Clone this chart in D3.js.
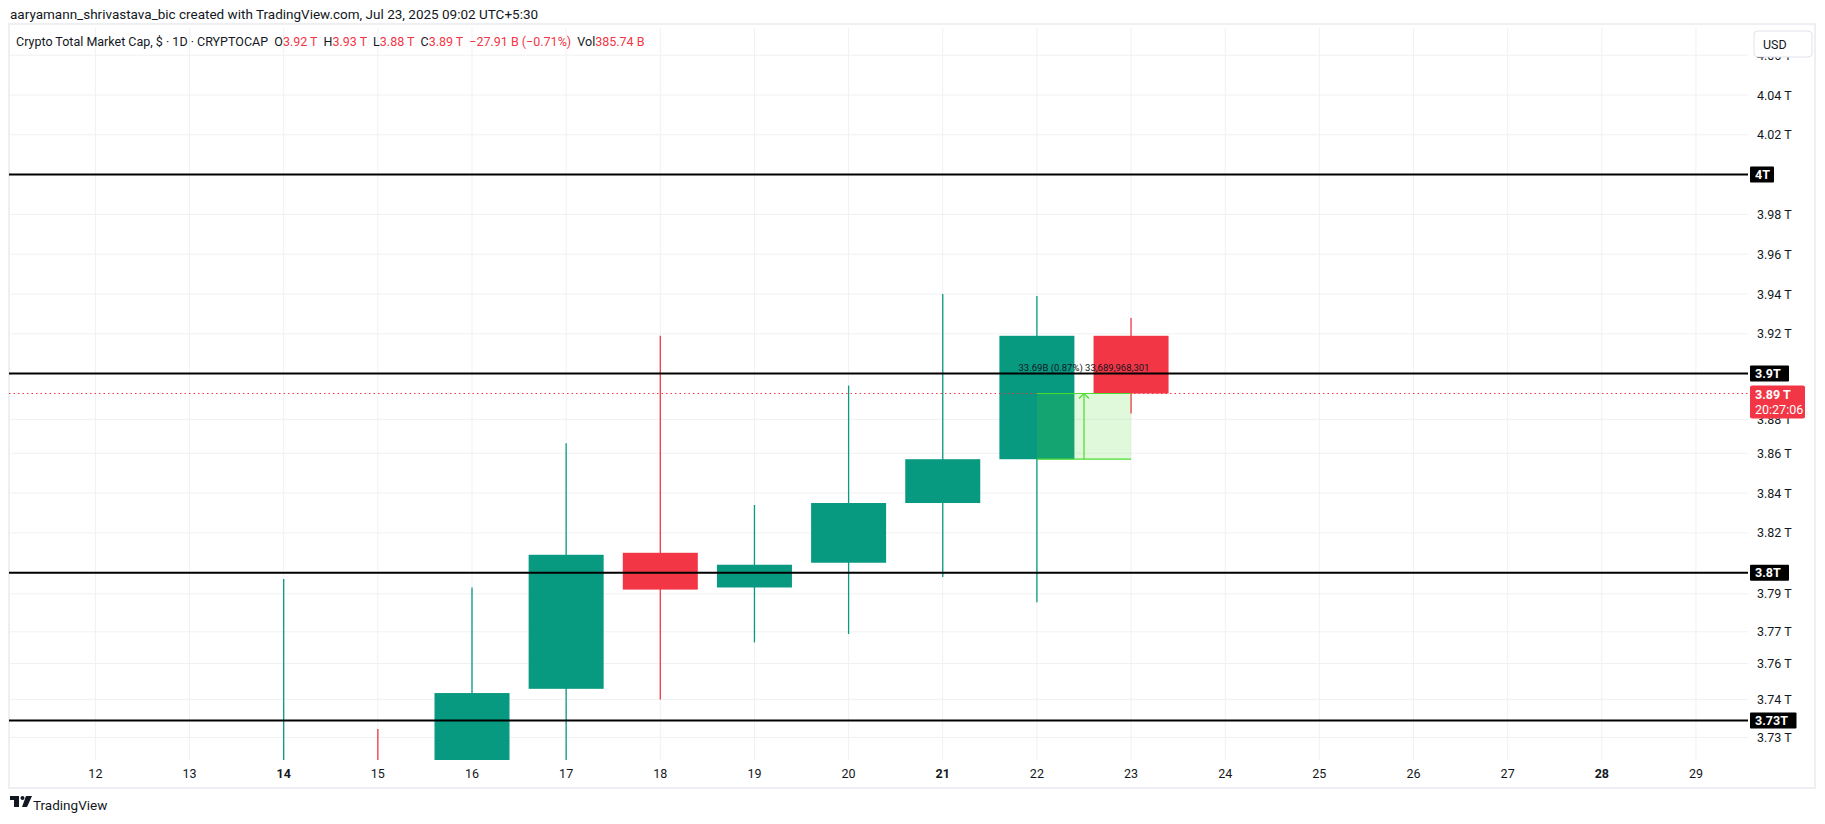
<!DOCTYPE html>
<html><head><meta charset="utf-8">
<script src="https://cdn.jsdelivr.net/npm/d3@7"></script>
<style>
body{margin:0;background:#fff;font-family:Roboto,"Liberation Sans",sans-serif;}
</style></head>
<body><svg id="c" width="1825" height="824"></svg>
<script>
// candle data, day of July 2025
const days   = [14, 15, 16, 17, 18, 19, 20, 21, 22, 23];
const opens  = [3.700, 3.700, 3.700, 3.745, 3.810, 3.793, 3.805, 3.835, 3.857, 3.919];
const highs  = [3.797, 3.726, 3.793, 3.865, 3.919, 3.834, 3.894, 3.940, 3.939, 3.928];
const lows   = [3.680, 3.680, 3.680, 3.710, 3.740, 3.767, 3.771, 3.798, 3.786, 3.880];
const closes = [3.710, 3.690, 3.743, 3.809, 3.792, 3.804, 3.835, 3.857, 3.919, 3.890];

const xTicks = d3.range(12, 30);
const boldDays = [14, 21, 28];
const yTickVals   = [4.06, 4.04, 4.02, 3.98, 3.96, 3.94, 3.92, 3.877, 3.86, 3.84, 3.82, 3.79, 3.772, 3.757, 3.74, 3.722];
const yTickLabels = ["4.06 T","4.04 T","4.02 T","3.98 T","3.96 T","3.94 T","3.92 T","3.88 T","3.86 T","3.84 T","3.82 T","3.79 T","3.77 T","3.76 T","3.74 T","3.73 T"];
const levels = [4.0, 3.9, 3.8, 3.73];
const levelLabels = ["4T", "3.9T", "3.8T", "3.73T"];
const lastPrice = 3.89;
const proj = {from: 22, to: 23, y0: 3.857, y1: 3.890, text: "33.69B (0.87%) 33,689,968,301"};

const L = 9, R = 1748, T = 28, B = 760;
const UP = "#089981", DN = "#f23645";

const svg = d3.select("#c");
const x = d3.scaleLinear().domain([12, 20]).range([95.4, 848.6]);
// price axis is not exactly linear here: piecewise through the level lines
const y = d3.scaleLinear().domain([4.0, 3.9, 3.8, 3.73]).range([174.6, 373.6, 572.7, 720.5]);

svg.append("defs").append("clipPath").attr("id", "plot")
  .append("rect").attr("x", L).attr("y", T).attr("width", R - L).attr("height", B - T);

// grid
const grid = svg.append("g").attr("stroke", "#f0f1f3").attr("stroke-width", 1);
grid.selectAll(".v").data(xTicks).join("line")
  .attr("x1", d => x(d)).attr("x2", d => x(d)).attr("y1", T).attr("y2", B);
grid.selectAll(".h").data(yTickVals).join("line")
  .attr("x1", L).attr("x2", R).attr("y1", d => y(d)).attr("y2", d => y(d));

// frame
svg.append("rect").attr("x", L).attr("y", T - 4).attr("width", 1815 - L).attr("height", 788 - T + 4)
  .attr("fill", "none").attr("stroke", "#eeeff2").attr("stroke-width", 2);

const plot = svg.append("g").attr("clip-path", "url(#plot)");
const bw = 75;
const candles = plot.selectAll(".cd").data(days.map((d, i) => ({d, o: opens[i], h: highs[i], l: lows[i], c: closes[i]})))
  .join("g");
candles.append("line")
  .attr("x1", d => x(d.d)).attr("x2", d => x(d.d))
  .attr("y1", d => y(d.h)).attr("y2", d => y(d.l))
  .attr("stroke", d => d.c >= d.o ? UP : DN).attr("stroke-width", 1.3);
candles.append("rect")
  .attr("x", d => x(d.d) - bw / 2).attr("width", bw)
  .attr("y", d => y(Math.max(d.o, d.c)))
  .attr("height", d => Math.max(1, y(Math.min(d.o, d.c)) - y(Math.max(d.o, d.c))))
  .attr("fill", d => d.c >= d.o ? UP : DN);

// last price dotted line
plot.append("line").attr("x1", L).attr("x2", R).attr("y1", y(lastPrice)).attr("y2", y(lastPrice))
  .attr("stroke", DN).attr("stroke-width", 1).attr("stroke-dasharray", "1.5,3");

// projection box
const px0 = x(proj.from), px1 = x(proj.to), py0 = y(proj.y0), py1 = y(proj.y1);
plot.append("rect").attr("x", px0).attr("y", py1).attr("width", px1 - px0).attr("height", py0 - py1)
  .attr("fill", "rgba(76,217,40,0.17)");
plot.selectAll(".pb").data([py0, py1]).join("line")
  .attr("x1", px0).attr("x2", px1).attr("y1", d => d).attr("y2", d => d)
  .attr("stroke", "#4cdb30").attr("stroke-width", 1.2);
const ax = (px0 + px1) / 2;
plot.append("line").attr("x1", ax).attr("x2", ax).attr("y1", py0).attr("y2", py1 + 1)
  .attr("stroke", "#4cdb30").attr("stroke-width", 1.2);
plot.append("path").attr("d", `M${ax - 5},${py1 + 5}L${ax},${py1}L${ax + 5},${py1 + 5}`)
  .attr("fill", "none").attr("stroke", "#4cdb30").attr("stroke-width", 1.2);

// horizontal levels
plot.selectAll(".lv").data(levels).join("line")
  .attr("x1", L).attr("x2", R).attr("y1", d => y(d)).attr("y2", d => y(d))
  .attr("stroke", "#000").attr("stroke-width", 2);

svg.append("text").attr("x", ax).attr("y", y(3.9) - 3).attr("text-anchor", "middle")
  .attr("font-size", 9.5).attr("fill", "#131722").text(proj.text);

// x axis labels
svg.selectAll(".xl").data(xTicks).join("text")
  .attr("x", d => x(d)).attr("y", 778).attr("text-anchor", "middle")
  .attr("font-size", 12.5).attr("fill", "#131722")
  .attr("font-weight", d => boldDays.includes(d) ? "bold" : "normal").text(d => d);

// y axis labels
svg.selectAll(".yl").data(yTickVals).join("text")
  .attr("x", 1757).attr("y", d => y(d) + 4.5)
  .attr("font-size", 12.5).attr("fill", "#131722").text((d, i) => yTickLabels[i]);

// level labels
const lg = svg.selectAll(".lg").data(levels).join("g")
  .attr("transform", d => `translate(1750,${y(d)})`);
lg.append("rect").attr("x", 0).attr("y", -8).attr("height", 16)
  .attr("width", (d, i) => levelLabels[i].length * 7.5 + 9).attr("fill", "#000").attr("rx", 1);
lg.append("text").attr("x", 5).attr("y", 4.5).attr("font-size", 12.5).attr("font-weight", "bold")
  .attr("fill", "#fff").text((d, i) => levelLabels[i]);

// current price label
const cp = svg.append("g").attr("transform", `translate(1750,${y(lastPrice) - 8})`);
cp.append("rect").attr("width", 55).attr("height", 33).attr("fill", DN).attr("rx", 2);
cp.append("text").attr("x", 5).attr("y", 13).attr("font-size", 12.5).attr("font-weight", "bold")
  .attr("fill", "#fff").text("3.89 T");
cp.append("text").attr("x", 5).attr("y", 28).attr("font-size", 12.5)
  .attr("fill", "#fff").text("20:27:06");

// USD box
svg.append("rect").attr("x", 1754).attr("y", 31).attr("width", 58).attr("height", 26)
  .attr("fill", "#fff").attr("stroke", "#e0e3eb").attr("rx", 4);
svg.append("text").attr("x", 1763).attr("y", 49).attr("font-size", 12.5).attr("fill", "#131722").text("USD");

// header
svg.append("text").attr("x", 10).attr("y", 19).attr("font-size", 13.5).attr("fill", "#131722")
  .text("aaryamann_shrivastava_bic created with TradingView.com, Jul 23, 2025 09:02 UTC+5:30");
const hd = svg.append("text").attr("x", 16).attr("y", 46).attr("font-size", 12.5).attr("fill", "#131722");
const parts = [["Crypto Total Market Cap, $ · 1D · CRYPTOCAP  ", "#131722"], ["O", "#131722"], ["3.92 T  ", DN],
  ["H", "#131722"], ["3.93 T  ", DN], ["L", "#131722"], ["3.88 T  ", DN], ["C", "#131722"], ["3.89 T  ", DN],
  ["−27.91 B (−0.71%)  ", DN], ["Vol", "#131722"], ["385.74 B", DN]];
hd.selectAll("tspan").data(parts).join("tspan").attr("fill", d => d[1]).attr("xml:space", "preserve")
  .style("white-space", "pre").text(d => d[0]);

// footer logo
const logo = svg.append("g").attr("fill", "#131722").attr("transform", "translate(10,796)");
logo.append("rect").attr("x", 0).attr("y", 0).attr("width", 9).attr("height", 4);
logo.append("rect").attr("x", 4).attr("y", 0).attr("width", 5).attr("height", 11);
logo.append("circle").attr("cx", 12.5).attr("cy", 2).attr("r", 2);
logo.append("path").attr("d", "M16,0H22L17,11H12Z");
svg.append("text").attr("x", 33).attr("y", 810).attr("font-size", 13.5)
  .attr("fill", "#131722").text("TradingView");
</script></body></html>
